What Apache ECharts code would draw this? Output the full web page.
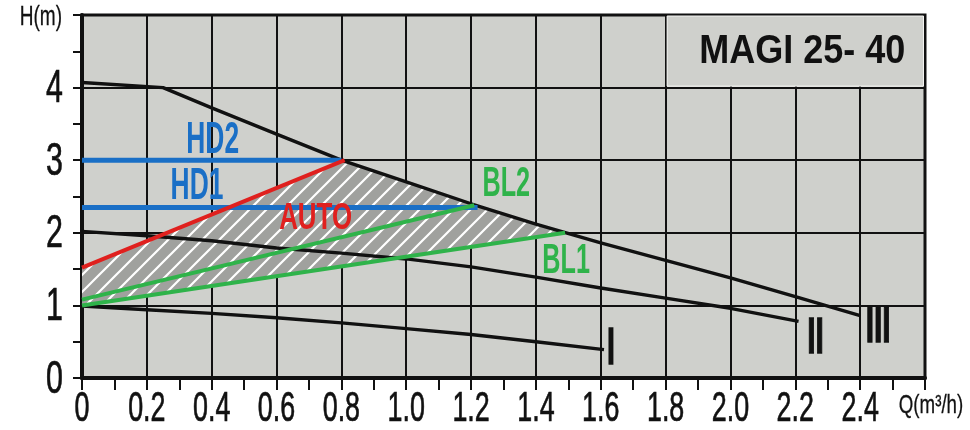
<!DOCTYPE html>
<html><head><meta charset="utf-8">
<script src="https://cdn.jsdelivr.net/npm/echarts@6/dist/echarts.min.js"></script>
<style>html,body{margin:0;padding:0;background:#fff}#c{width:970px;height:430px}</style>
</head><body><div id="c"></div>
<script>
// ---- data ----
const curveI   = [[0,0.99],[0.2,0.94],[0.4,0.89],[0.6,0.83],[0.8,0.76],[1.0,0.68],[1.2,0.60],[1.4,0.50],[1.61,0.39]];
const curveII  = [[0,2.02],[0.2,1.96],[0.4,1.89],[0.6,1.79],[0.8,1.72],[1.0,1.64],[1.2,1.53],[1.4,1.39],[1.6,1.24],[1.8,1.10],[2.0,0.96],[2.21,0.78]];
const curveIII = [[0,4.07],[0.25,4.0],[0.4,3.72],[0.6,3.36],[0.8,3.0],[1.0,2.70],[1.2,2.40],[1.4,2.12],[1.6,1.86],[1.8,1.62],[2.0,1.38],[2.2,1.12],[2.4,0.86]];
const lineHD2  = [[0,3.0],[0.8,3.0]];
const lineHD1  = [[0,2.35],[1.22,2.35]];
const lineAUTO = [[0,1.52],[0.81,3.0]];
const lineBL2  = [[0,1.08],[1.21,2.38]];
const lineBL1  = [[0,1.0],[1.49,2.0]];
const xTickLabels = ['0','0.2','0.4','0.6','0.8','1.0','1.2','1.4','1.6','1.8','2.0','2.2','2.4'];
const yTickLabels = ['0','1','2','3','4'];
const xUnit = 'Q(m³/h)';
const yUnit = 'H(m)';
const title = 'MAGI 25- 40';
const X_MAX = 2.6, Y_MAX = 5;

// ---- styling ----
const BG = '#cfd0cc', INK = '#111111';
const BLUE = '#1a6fc6', RED = '#e0201e', GREEN = '#2fb34a';
const FONT = "'Liberation Sans', Arial, sans-serif";

// hatch pattern
const pc = document.createElement('canvas');
const S = 17; pc.width = S; pc.height = S;
const g = pc.getContext('2d');
g.fillStyle = '#a0a19e'; g.fillRect(0,0,S,S);
g.strokeStyle = '#ffffff'; g.lineWidth = 2.2;
g.beginPath();
g.moveTo(-2,S+2); g.lineTo(S+2,-2);
g.moveTo(-2,2); g.lineTo(2,-2);
g.moveTo(S-2,S+2); g.lineTo(S+2,S-2);
g.stroke();

// hatched region polygon built from the curves
const hatchPoly = [lineAUTO[0], lineAUTO[1]]
  .concat(curveIII.filter(p => p[0] > lineAUTO[1][0] && p[0] < lineBL1[1][0]))
  .concat([lineBL1[1], lineBL1[0]]);

// annotations anchored to series points, offsets in pixels
const mid = a => [(a[0][0]+a[1][0])/2, a[0][1]];
const last = a => a[a.length-1];
const notes = [
  {t:'HD2', at: mid(lineHD2), dx:1, dy:-19, c:BLUE, fs:44, sx:0.6},
  {t:'HD1', at: lineHD1[0], dx:115, dy:-21, c:BLUE, fs:44, sx:0.6},
  {t:'AUTO', at: lineAUTO[1], dx:-29, dy:59, c:RED, fs:36, sx:0.72},
  {t:'BL2', at: lineBL2[1], dx:32, dy:-21, c:GREEN, fs:42, sx:0.6},
  {t:'BL1', at: lineBL1[1], dx:1, dy:29, c:GREEN, fs:42, sx:0.6},
  {t:'I', at: last(curveI), dx:7, dy:0, c:INK, fs:52, sx:0.55, st:1.4},
  {t:'II', at: last(curveII), dx:17, dy:18, c:INK, fs:50, sx:0.6, st:1.4},
  {t:'III', at: last(curveIII), dx:18, dy:13, c:INK, fs:50, sx:0.6, st:1.4}
];

const chart = echarts.init(document.getElementById('c'), null, {renderer:'canvas'});

function lineSeries(data, color, width, z){
  return {type:'line', data, symbol:'none', smooth:false, z: z||3,
    lineStyle:{color, width}, silent:true, animation:false};
}
function txt(x, y, text, opt){
  return {type:'text', x, y, scaleX:opt.sx||1,
    style:{text, fill:opt.c||INK, font:opt.font, align:opt.align||'center', verticalAlign:'middle',
      stroke: opt.st ? (opt.c||INK) : null, lineWidth: opt.st||0}};
}

chart.setOption({
  animation:false,
  grid:{left:82, right:45, top:15, bottom:52, show:true, backgroundColor:BG, borderColor:INK, borderWidth:3},
  xAxis:[
    {type:'value', min:0, max:X_MAX, interval:0.2, position:'bottom',
     axisLine:{lineStyle:{color:INK, width:4}},
     axisTick:{show:false}, axisLabel:{show:false},
     splitLine:{lineStyle:{color:INK, width:2}}},
    {type:'value', min:0, max:X_MAX, interval:0.1, position:'bottom',
     axisLine:{show:false}, axisLabel:{show:false}, splitLine:{show:false},
     axisTick:{show:true, length:12, lineStyle:{color:INK, width:2}}}
  ],
  yAxis:[
    {type:'value', min:0, max:Y_MAX, interval:1, position:'left',
     axisLine:{lineStyle:{color:INK, width:4}},
     axisTick:{show:false}, axisLabel:{show:false},
     splitLine:{lineStyle:{color:INK, width:2}}},
    {type:'value', min:0, max:Y_MAX, interval:0.5, position:'left',
     axisLine:{show:false}, axisLabel:{show:false}, splitLine:{show:false},
     axisTick:{show:true, length:9, lineStyle:{color:INK, width:2}}}
  ],
  series:[
    {type:'custom', silent:true, z:1, data:[0],
     renderItem:(params, api) => {
       const pts = hatchPoly.map(p => api.coord(p));
       return {type:'polygon', shape:{points:pts},
         style:{fill:{image:pc, repeat:'repeat'}, stroke:'none'}};
     }},
    {type:'custom', silent:true, z:1, data:[[1.8,Y_MAX,X_MAX,4]],
     renderItem:(params, api) => {
       const a = api.coord([api.value(0), api.value(1)]);
       const b = api.coord([api.value(2), api.value(3)]);
       return {type:'group', children:[
         {type:'rect', shape:{x:a[0]+1.5, y:a[1]+1, width:b[0]-a[0]-3, height:b[1]-a[1]-2.5},
          style:{fill:BG, stroke:'#f4f4f2', lineWidth:1}},
         txt((a[0]+b[0])/2+7, (a[1]+b[1])/2+1, title, {sx:0.9, font:"bold 40px "+FONT})
       ]};
     }},
    lineSeries(curveI, INK, 3.4),
    lineSeries(curveII, INK, 3.4),
    lineSeries(curveIII, INK, 3.4),
    lineSeries(lineHD2, BLUE, 5, 4),
    lineSeries(lineHD1, BLUE, 5, 4),
    lineSeries(lineAUTO, RED, 4, 4),
    lineSeries(lineBL2, GREEN, 4, 4),
    lineSeries(lineBL1, GREEN, 4, 4),
    // annotations
    {type:'custom', silent:true, z:6, clip:false, data: notes.map(n => n.at),
     renderItem:(params, api) => {
       const n = notes[params.dataIndex];
       const p = api.coord([api.value(0), api.value(1)]);
       return txt(p[0]+n.dx, p[1]+n.dy, n.t, {c:n.c, sx:n.sx, st:n.st, font:"bold "+n.fs+"px "+FONT});
     }},
    // x tick labels + unit
    {type:'custom', silent:true, z:6, clip:false,
     data: xTickLabels.map(t => [parseFloat(t), 0]).concat([[X_MAX, 0]]),
     renderItem:(params, api) => {
       const i = params.dataIndex;
       const p = api.coord([api.value(0), api.value(1)]);
       if (i < xTickLabels.length)
         return txt(p[0], p[1]+31, xTickLabels[i], {sx:0.64, st:0.7, font:"42px "+FONT});
       return txt(p[0]+6, p[1]+28, xUnit, {sx:0.72, st:0.3, font:"26px "+FONT});
     }},
    // y tick labels + unit
    {type:'custom', silent:true, z:6, clip:false,
     data: yTickLabels.map(t => [0, parseFloat(t)]).concat([[0, Y_MAX]]),
     renderItem:(params, api) => {
       const i = params.dataIndex;
       const p = api.coord([api.value(0), api.value(1)]);
       if (i < yTickLabels.length)
         return txt(p[0]-19, p[1]+2, yTickLabels[i], {sx:0.66, st:0.7, align:'right', font:"46px "+FONT});
       return txt(p[0]-20, p[1]+2, yUnit, {sx:0.68, st:0.3, align:'right', font:"28px "+FONT});
     }}
  ]
});
</script></body></html>
